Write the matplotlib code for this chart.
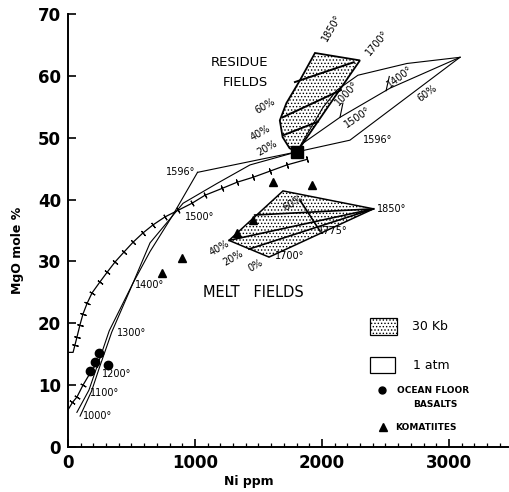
import numpy as np
import matplotlib
matplotlib.use("Agg")
import matplotlib.pyplot as plt

plt.rcParams["font.family"] = ["DejaVu Sans"]
plt.rcParams["hatch.linewidth"] = 0.6

# ---- curve with tick marks (olivine-liquid trend) ----
tick_x = [0, 40, 55, 71, 95, 118, 150, 189, 252, 310, 370, 440, 512, 590, 669,
          764, 870, 976, 1079, 1213, 1331, 1457, 1591, 1724, 1882]
tick_y = [15.3, 15.3, 16.5, 17.8, 19.8, 21.5, 23.2, 24.9, 26.7, 28.3, 29.9, 31.5,
          33.1, 34.6, 35.9, 37.2, 38.3, 39.4, 40.7, 41.8, 42.8, 43.6, 44.6, 45.6, 46.5]
low_x = [0, 35, 71, 118, 173, 215]
low_y = [6.0, 7.2, 8.1, 10.0, 11.9, 13.2]

# ---- 1 atm melt lens ----
melt_p_x = [70, 165, 232, 325, 512, 646, 820, 1020]
melt_p_y = [5.6, 9.2, 13.2, 18.8, 26.5, 31.6, 37.3, 44.4]
melt_q_x = [95, 185, 250, 345, 512, 646, 906, 1173, 1433, 1800]
melt_q_y = [5.0, 9.0, 13.0, 18.6, 26.5, 33.0, 39.4, 42.6, 45.6, 47.7]
tie_x = [1020, 1800]
tie_y = [44.4, 47.7]

# ---- 1 atm residue field ----
res_upper_x = [1800, 2008, 2118, 2283, 2669, 3087]
res_upper_y = [47.7, 54.9, 57.7, 60.1, 62.0, 63.0]
res_mid_x = [1800, 1850, 2142, 2535, 3087]
res_mid_y = [47.7, 49.1, 53.3, 58.0, 63.0]
res_lower_x = [1800, 2220, 3087]
res_lower_y = [47.7, 49.6, 63.0]
res_ticks = [([2142, 2165], [53.3, 55.6]), ([2505, 2530], [57.6, 59.9])]

# ---- 30 Kb residue field ----
kb_res_x = [1803, 1745, 1690, 1668, 1720, 1827, 1945, 2299, 1803]
kb_res_y = [47.7, 48.3, 50.1, 52.8, 55.6, 59.3, 63.7, 62.5, 47.7]
kb_res_lines = [([1787, 2250], [59.0, 62.2]),
                ([1690, 2150], [53.3, 57.7]),
                ([1695, 1969], [50.4, 52.6])]

# ---- 30 Kb melt field ----
kb_melt_x = [1268, 1693, 2406, 1583, 1268]
kb_melt_y = [33.4, 41.4, 38.5, 30.7, 33.4]
kb_melt_lines = [([1425, 2406], [32.0, 38.5]),
                 ([1268, 2406], [33.4, 38.5]),
                 ([1470, 2406], [37.5, 38.5]),
                 ([1985, 1830], [34.9, 39.8])]

# ---- samples ----
basalt_x = [175, 215, 245, 315]
basalt_y = [12.3, 13.8, 15.2, 13.2]
komat_x = [740, 898, 1331, 1457, 1614, 1921]
komat_y = [28.1, 30.5, 34.6, 36.7, 42.8, 42.3]


def ticked(ax, xs, ys, skip=0):
    ax.plot(xs, ys, color="black", lw=0.9)
    # small ticks drawn perpendicular to the curve (screen space)
    sx, sy = 0.127, 6.19
    for i in range(skip, len(xs)):
        a = max(i - 1, 0)
        b = min(i + 1, len(xs) - 1)
        dx = (xs[b] - xs[a]) * sx
        dy = (ys[b] - ys[a]) * sy
        ang = np.degrees(np.arctan2(dy, dx))
        ax.plot(xs[i], ys[i], marker=(2, 2, ang), ms=4.5, mew=0.8, color="black")


fig = plt.figure(figsize=(5.1, 4.92), dpi=100)
ax = fig.add_axes([68 / 510, 45 / 492, 440 / 510, 433 / 492])
ax.set_xlim(0, 3465)
ax.set_ylim(0, 70)

ticked(ax, tick_x, tick_y, skip=2)
ticked(ax, low_x, low_y, skip=1)

ax.plot(melt_p_x, melt_p_y, color="black", lw=0.8)
ax.plot(melt_q_x, melt_q_y, color="black", lw=0.8)
ax.plot(tie_x, tie_y, color="black", lw=0.8)

ax.plot(res_upper_x, res_upper_y, color="black", lw=0.8)
ax.plot(res_mid_x, res_mid_y, color="black", lw=0.8)
ax.plot(res_lower_x, res_lower_y, color="black", lw=0.8)
for lx, ly in res_ticks:
    ax.plot(lx, ly, color="black", lw=0.8)

ax.fill(kb_res_x, kb_res_y, facecolor="white", edgecolor="black", hatch=".....", lw=1.3)
for lx, ly in kb_res_lines:
    ax.plot(lx, ly, color="black", lw=1.4)

ax.fill(kb_melt_x, kb_melt_y, facecolor="white", edgecolor="black", hatch=".....", lw=1.1)
for lx, ly in kb_melt_lines:
    ax.plot(lx, ly, color="black", lw=1.2)

ax.plot(1800, 47.7, marker="s", ms=8, color="black")
ax.plot(basalt_x, basalt_y, "o", ms=6, color="black", ls="none")
ax.plot(komat_x, komat_y, "^", ms=6, color="black", ls="none")

# ---- labels ----
fs = 7
txt = dict(fontsize=fs, color="black")
ax.text(118, 5.0, "1000°", va="center", **txt)
ax.text(173, 8.7, "1100°", va="center", **txt)
ax.text(268, 11.8, "1200°", va="center", **txt)
ax.text(386, 18.4, "1300°", va="center", **txt)
ax.text(528, 26.2, "1400°", va="center", **txt)
ax.text(921, 37.2, "1500°", va="center", **txt)
ax.text(1000, 44.4, "1596°", va="center", ha="right", **txt)
ax.text(2323, 49.6, "1596°", va="center", **txt)

ax.text(2079, 67.7, "1850°", ha="center", va="center", rotation=60, **txt)
ax.text(2433, 65.4, "1700°", ha="center", va="center", rotation=50, **txt)
ax.text(1354, 62.2, "RESIDUE", ha="center", va="center", fontsize=9.5)
ax.text(1394, 59.0, "FIELDS", ha="center", va="center", fontsize=9.5)
ax.text(1551, 55.1, "60%", ha="center", va="center", rotation=30, **txt)
ax.text(1512, 50.7, "40%", ha="center", va="center", rotation=30, **txt)
ax.text(1567, 48.3, "20%", ha="center", va="center", rotation=30, **txt)
ax.text(2197, 57.2, "1000°", ha="center", va="center", rotation=47, **txt)
ax.text(2614, 59.8, "1400°", ha="center", va="center", rotation=37, **txt)
ax.text(2276, 53.3, "1500°", ha="center", va="center", rotation=34, **txt)
ax.text(2827, 57.2, "60%", ha="center", va="center", rotation=36, **txt)

ax.text(2433, 38.5, "1850°", va="center", **txt)
ax.text(1969, 35.0, "1775°", va="center", **txt)
ax.text(1630, 30.8, "1700°", va="center", **txt)
ax.text(1480, 29.4, "0%", ha="center", va="center", rotation=30, **txt)
ax.text(1300, 30.6, "20%", ha="center", va="center", rotation=30, **txt)
ax.text(1190, 32.2, "40%", ha="center", va="center", rotation=30, **txt)
ax.text(1772, 39.4, "60%", ha="center", va="center", rotation=30, **txt)
ax.text(1457, 25.0, "MELT   FIELDS", ha="center", va="center", fontsize=10.5)

# ---- legend drawn as data boxes ----
ax.fill([2378, 2591, 2591, 2378], [18.1, 18.1, 20.8, 20.8], facecolor="white",
        edgecolor="black", hatch=".....", lw=0.9)
ax.text(2709, 19.4, "30 Kb", va="center", fontsize=9)
ax.fill([2378, 2575, 2575, 2378], [12.0, 12.0, 14.5, 14.5], facecolor="white",
        edgecolor="black", lw=0.9)
ax.text(2717, 13.2, "1 atm", va="center", fontsize=9)
ax.plot(2472, 9.2, "o", ms=5, color="black")
ax.text(2590, 9.2, "OCEAN FLOOR", va="center", fontsize=6.5, fontweight="bold")
ax.text(2717, 6.8, "BASALTS", va="center", fontsize=6.5, fontweight="bold")
ax.plot(2480, 3.2, "^", ms=6, color="black")
ax.text(2575, 3.2, "KOMATIITES", va="center", fontsize=6.5, fontweight="bold")

# ---- axes ----
for s in ["top", "right"]:
    ax.spines[s].set_visible(False)
for s in ["left", "bottom"]:
    ax.spines[s].set_linewidth(1.4)
ax.set_xticks([0, 1000, 2000, 3000])
ax.set_xticks(np.arange(0, 3500, 100), minor=True)
ax.set_yticks(np.arange(0, 71, 10))
ax.tick_params(axis="both", which="major", direction="in", length=6, width=1.2,
               labelsize=12, pad=5)
ax.tick_params(axis="x", which="minor", direction="in", length=3, width=0.9)
for lab in ax.get_xticklabels() + ax.get_yticklabels():
    lab.set_fontweight("bold")
ax.set_xlabel("Ni ppm", fontsize=9, fontweight="bold")
ax.xaxis.set_label_coords(0.41, -0.065)
ax.set_ylabel("MgO mole %", fontsize=9, fontweight="bold")
ax.yaxis.set_label_coords(-0.1, 0.455)

fig.savefig("out.png", dpi=100)
